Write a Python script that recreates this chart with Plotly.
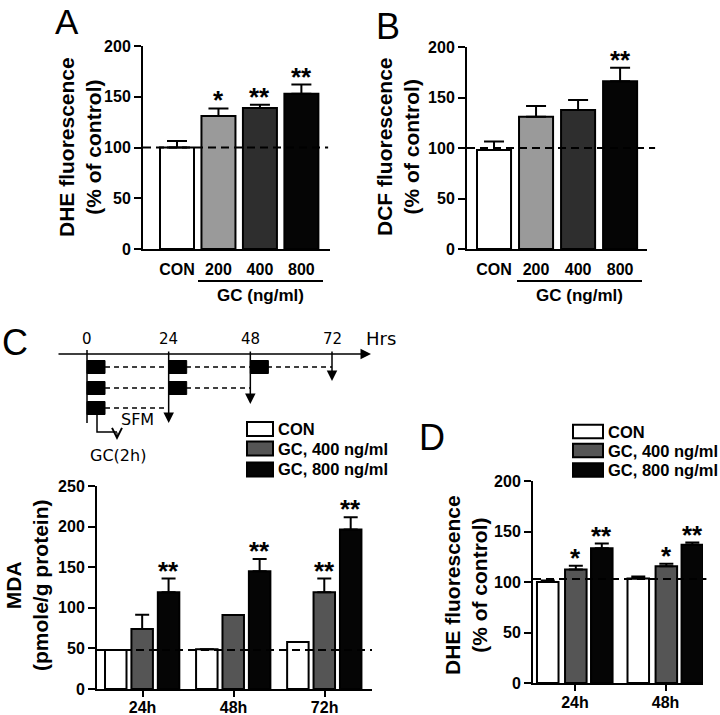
import plotly.graph_objects as go

W, H = 720, 715
def px(x):
    return x / W
def py(y):
    return 1 - y / H

SANS = "Liberation Sans, Arial, sans-serif"
DIAG = "DejaVu Sans, Verdana, sans-serif"

# ---------------- data ----------------
# Panel A: DHE fluorescence (% of control)
a_cats = ["CON", "200", "400", "800"]
a_vals = [100, 131, 139, 153]
a_errs = [6.5, 7.5, 3, 9]
a_stars = ["", "*", "**", "**"]

# Panel B: DCF fluorescence (% of control)
b_cats = ["CON", "200", "400", "800"]
b_vals = [98, 131, 137.5, 166]
b_errs = [8.5, 10.5, 10, 13.5]
b_stars = ["", "", "", "**"]

# Panel C: MDA (pmole/g protein)
c_cats = ["24h", "48h", "72h"]
c_series = ["CON", "GC, 400 ng/ml", "GC, 800 ng/ml"]
c_con = [48, 49, 58]
c_con_err = [0, 0, 0]
c_gc400 = [74, 91, 119]
c_gc400_err = [17.5, 0, 17]
c_gc800 = [119, 145, 196.5]
c_gc800_err = [17, 15, 15]
c_con_stars = ["", "", ""]
c_gc400_stars = ["", "", "**"]
c_gc800_stars = ["**", "**", "**"]
c_ref = 48

# Panel D: DHE fluorescence (% of control)
d_cats = ["24h", "48h"]
d_con = [100, 103.5]
d_con_err = [1.5, 2]
d_gc400 = [112.5, 115.5]
d_gc400_err = [3.5, 2.5]
d_gc800 = [133.5, 137]
d_gc800_err = [4.5, 2]
d_con_stars = ["", ""]
d_gc400_stars = ["*", "*"]
d_gc800_stars = ["**", "**"]
d_ref = 103

# Timeline (hours)
tl_ticks = [0, 24, 48, 72]
tl_rows_starts = [[0, 24, 48], [0, 24], [0]]
tl_rows_end = [72, 48, 24]

# ---------------- style ----------------
AB_COLORS = ["#ffffff", "#9a9a9a", "#2e2e2e", "#050505"]
CD_COLORS = ["#ffffff", "#555555", "#050505"]

fig = go.Figure()

def yax(domain, rng, dtick):
    return dict(domain=domain, range=rng, dtick=dtick, showline=True, linewidth=2,
                linecolor="black", ticks="outside", ticklen=7, tickwidth=2,
                tickcolor="black", showgrid=False, zeroline=False, automargin=False,
                tickfont=dict(family=SANS, size=16, color="black", weight="bold"))

def xax(domain, rng, tickcolor="black", ticklen=6, standoff=0):
    return dict(domain=domain, range=rng, type="category", showline=True, linewidth=2,
                linecolor="black", ticks="outside", ticklen=ticklen, tickwidth=2,
                tickcolor=tickcolor, showgrid=False, zeroline=False, automargin=False,
                ticklabelstandoff=standoff,
                tickfont=dict(family=SANS, size=16, color="black", weight="bold"))

def err(arr, w):
    return dict(type="data", array=arr, arrayminus=[0] * len(arr), symmetric=False,
                color="black", thickness=2, width=w)

# Panel A
fig.add_trace(go.Bar(x=a_cats, y=a_vals, width=0.82, xaxis="x", yaxis="y",
                     marker=dict(color=AB_COLORS, line=dict(color="black", width=2)),
                     error_y=err(a_errs, 10)))
# Panel B
fig.add_trace(go.Bar(x=b_cats, y=b_vals, width=0.81, xaxis="x2", yaxis="y2",
                     marker=dict(color=AB_COLORS, line=dict(color="black", width=2)),
                     error_y=err(b_errs, 10)))

# Panel C grouped
C_W = 0.236
C_OFF = [-0.412, -0.122, 0.168]
c_vals_all = [c_con, c_gc400, c_gc800]
c_errs_all = [c_con_err, c_gc400_err, c_gc800_err]
c_stars_all = [c_con_stars, c_gc400_stars, c_gc800_stars]
for i in range(3):
    fig.add_trace(go.Bar(x=c_cats, y=c_vals_all[i], width=C_W, offset=C_OFF[i],
                         xaxis="x3", yaxis="y3", name=c_series[i],
                         marker=dict(color=CD_COLORS[i], line=dict(color="black", width=2)),
                         error_y=err(c_errs_all[i], 7)))

# Panel D grouped
D_W = 0.238
D_OFF = [-0.42, -0.11, 0.177]
d_vals_all = [d_con, d_gc400, d_gc800]
d_errs_all = [d_con_err, d_gc400_err, d_gc800_err]
d_stars_all = [d_con_stars, d_gc400_stars, d_gc800_stars]
for i in range(3):
    fig.add_trace(go.Bar(x=d_cats, y=d_vals_all[i], width=D_W, offset=D_OFF[i],
                         xaxis="x4", yaxis="y4", name=c_series[i],
                         marker=dict(color=CD_COLORS[i], line=dict(color="black", width=2)),
                         error_y=err(d_errs_all[i], 7)))

STAR_FONT = dict(family=SANS, size=26, color="black", weight="bold")
def star(text, x, y, xr, yr):
    if text:
        fig.add_annotation(text=text, x=x, y=y, xref=xr, yref=yr, showarrow=False,
                           yanchor="bottom", yshift=-9, font=STAR_FONT)

for i, s in enumerate(a_stars):
    star(s, i, a_vals[i] + a_errs[i], "x", "y")
for i, s in enumerate(b_stars):
    star(s, i, b_vals[i] + b_errs[i], "x2", "y2")
for k in range(3):
    for i, s in enumerate(c_stars_all[k]):
        star(s, i + C_OFF[k] + C_W / 2, c_vals_all[k][i] + c_errs_all[k][i], "x3", "y3")
    for i, s in enumerate(d_stars_all[k]):
        star(s, i + D_OFF[k] + D_W / 2, d_vals_all[k][i] + d_errs_all[k][i], "x4", "y4")

# reference dashed lines
DASH = dict(color="black", width=2, dash="8px,5px")
fig.add_shape(type="line", xref="x domain", yref="y", x0=0, x1=0.99, y0=100, y1=100, line=DASH)
fig.add_shape(type="line", xref="x2 domain", yref="y2", x0=0, x1=1.045, y0=100, y1=100, line=DASH)
fig.add_shape(type="line", xref="x3 domain", yref="y3", x0=0, x1=1.0, y0=c_ref, y1=c_ref, line=DASH)
fig.add_shape(type="line", xref="x4 domain", yref="y4", x0=0, x1=1.02, y0=d_ref, y1=d_ref, line=DASH)

# ---------------- timeline diagram (axis x5 in hours) ----------------
S = (332 - 87) / 72.0
def hx(p):
    return (p - 87) / S
TL = dict(color="black", width=1.5)
# main axis with arrow
fig.add_annotation(x=hx(371), y=354, ax=hx(57), ay=354, xref="x5", yref="y5", axref="x5",
                   ayref="y5", showarrow=True, arrowhead=2, arrowsize=1.4, arrowwidth=1.5,
                   arrowcolor="black", text="")
for t in tl_ticks:
    fig.add_annotation(text=str(t), x=t, y=339, xref="x5", yref="y5", showarrow=False,
                       font=dict(family=DIAG, size=15, color="black"))
fig.add_annotation(text="Hrs", x=hx(381), y=338, xref="x5", yref="y5", showarrow=False,
                   font=dict(family=DIAG, size=18, color="black"))
# vertical line at 0
fig.add_shape(type="line", xref="x5", yref="y5", x0=0, x1=0, y0=350, y1=423, line=TL)
BOX_W = 5.3
row_y = [367, 388, 408]
tip_y = {72: 381, 48: 404, 24: 423}
for r, starts in enumerate(tl_rows_starts):
    end = tl_rows_end[r]
    fig.add_shape(type="line", xref="x5", yref="y5", x0=BOX_W, x1=end, y0=row_y[r], y1=row_y[r],
                  line=dict(color="black", width=1.3, dash="5px,4px"))
    for s0 in starts:
        fig.add_shape(type="rect", xref="x5", yref="y5", x0=s0, x1=s0 + BOX_W,
                      y0=row_y[r] - 6.5, y1=row_y[r] + 6.5, fillcolor="black",
                      line=dict(color="black", width=1))
    fig.add_annotation(x=end, y=tip_y[end], ax=end, ay=350, xref="x5", yref="y5", axref="x5",
                       ayref="y5", showarrow=True, arrowhead=2, arrowsize=1.4, arrowwidth=1.5,
                       arrowcolor="black", text="")
fig.add_annotation(text="SFM", x=hx(137), y=419.5, xref="x5", yref="y5", showarrow=False,
                   font=dict(family=DIAG, size=16, color="black"))
fig.add_shape(type="path", xref="x5", yref="y5",
              path=f"M {hx(97)},414 L {hx(97)},432 L {hx(117)},432", line=TL)
fig.add_annotation(x=hx(117), y=440, ax=hx(117), ay=431, xref="x5", yref="y5", axref="x5",
                   ayref="y5", showarrow=True, arrowhead=5, arrowsize=1.5, arrowwidth=1.3,
                   arrowcolor="black", text="")
fig.add_annotation(text="GC(2h)", x=hx(118), y=455, xref="x5", yref="y5", showarrow=False,
                   font=dict(family=DIAG, size=16, color="black"))

# ---------------- legends ----------------
LEG_FONT = dict(family=SANS, size=16.5, color="black", weight="bold")
def legend(x0, x1, ys, h):
    for i, yc in enumerate(ys):
        fig.add_shape(type="rect", xref="paper", yref="paper", x0=px(x0), x1=px(x1),
                      y0=py(yc - h / 2), y1=py(yc + h / 2), fillcolor=CD_COLORS[i],
                      line=dict(color="black", width=2))
        fig.add_annotation(text=c_series[i], x=px(x1 + 3), y=py(yc), xref="paper", yref="paper",
                           showarrow=False, xanchor="left", yanchor="middle", font=LEG_FONT)
legend(247, 273, [429, 448.5, 469.5], 14)
legend(573, 603, [431.5, 450.5, 470], 13.5)

# ---------------- text: labels, letters ----------------
def ptext(text, x, y, size, bold=True, angle=0, family=SANS, yanchor="middle"):
    fig.add_annotation(text=text, x=px(x), y=py(y), xref="paper", yref="paper", showarrow=False,
                       textangle=angle, xanchor="center", yanchor=yanchor,
                       font=dict(family=family, size=size, color="black",
                                 weight="bold" if bold else "normal"))

ptext("DHE fluorescence<br>(% of control)", 80, 147, 21, angle=-90)
ptext("DCF fluorescence<br>(% of control)", 398, 147, 21, angle=-90)
ptext("MDA<br>(pmole/g protein)", 27, 585, 21, angle=-90)
ptext("DHE fluorescence<br>(% of control)", 466, 585, 21, angle=-90)

ptext("A", 67, 0, 35, bold=False, yanchor="top")
ptext("B", 388, 26, 36, bold=False)
ptext("C", 15, 342, 36, bold=False)
ptext("D", 432, 437, 36, bold=False)

# GC (ng/ml) underlines
for (x0, x1) in [(198, 323), (517, 642)]:
    fig.add_shape(type="line", xref="paper", yref="paper", x0=px(x0), x1=px(x1),
                  y0=py(281), y1=py(281), line=dict(color="black", width=2))
    ptext("GC (ng/ml)", (x0 + x1) / 2, 295, 17)

# ---------------- layout ----------------
fig.update_layout(
    width=W, height=H, margin=dict(l=0, r=0, t=0, b=0, pad=0, autoexpand=False),
    paper_bgcolor="white", plot_bgcolor="white", showlegend=False, barmode="overlay",
    xaxis=xax([px(143), px(330)], [-0.82, 3.69], tickcolor="rgba(0,0,0,0)", ticklen=5),
    yaxis=yax([py(249), py(46)], [0, 200], 50),
    xaxis2=xax([px(467), px(647)], [-0.643, 3.64], tickcolor="rgba(0,0,0,0)", ticklen=5),
    yaxis2=yax([py(249), py(47)], [0, 200], 50),
    xaxis3=xax([px(97), px(372)], [-0.5, 2.52], standoff=-3),
    yaxis3=yax([py(689), py(486)], [0, 250], 50),
    xaxis4=xax([px(533), px(703)], [-0.464, 1.414], standoff=-2),
    yaxis4=yax([py(683), py(481)], [0, 200], 50),
    xaxis5=dict(domain=[px(50), px(400)], range=[hx(50), hx(400)], visible=False, automargin=False),
    yaxis5=dict(domain=[py(465), py(325)], range=[465, 325], visible=False, automargin=False),
)
fig.update_layout(xaxis5_anchor="y5", yaxis5_anchor="x5",
                  xaxis2_anchor="y2", yaxis2_anchor="x2",
                  xaxis3_anchor="y3", yaxis3_anchor="x3",
                  xaxis4_anchor="y4", yaxis4_anchor="x4")

fig.write_html("out.html", config={"displayModeBar": False},
               post_script="document.body.style.margin='0';document.body.style.overflow='hidden';")
